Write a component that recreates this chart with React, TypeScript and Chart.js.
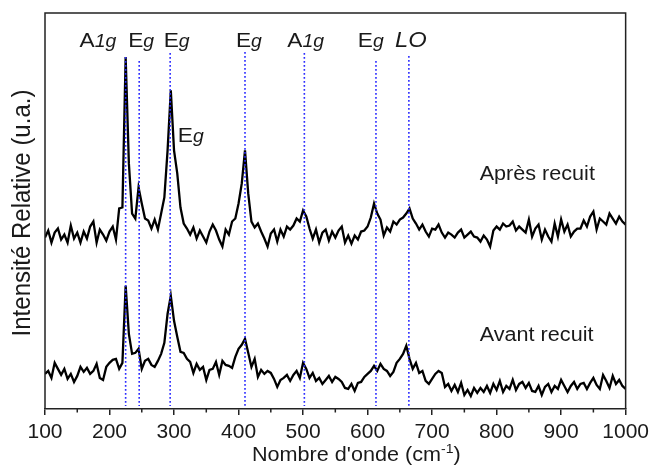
import React, { useEffect, useRef } from 'react';
import { Chart, registerables } from 'chart.js';

Chart.register(...registerables);

// Raman shift sampling (cm-1)
const WN_START = 100;
const WN_STEP = 5;

// "Après recuit" (after annealing) intensities, 100..1000 step 5
const apresRecuit: number[] = [
  171, 178, 166, 176, 180, 169, 174, 166, 183, 170,
  176, 166, 177, 170, 182, 187, 166, 179, 174, 168,
  177, 182, 169, 200, 201, 351, 245, 195, 190, 221,
  205, 190, 188, 180, 189, 179, 195, 211, 258, 318,
  258, 235, 201, 185, 180, 174, 181, 170, 178, 172,
  166, 177, 184, 178, 169, 162, 179, 174, 187, 190,
  205, 225, 258, 215, 187, 181, 185, 177, 170, 162,
  175, 179, 167, 179, 172, 182, 179, 183, 190, 187,
  198, 192, 180, 170, 179, 166, 176, 179, 168, 177,
  171, 178, 182, 166, 173, 165, 173, 169, 177, 178,
  182, 191, 205, 195, 189, 173, 181, 177, 187, 184,
  189, 191, 195, 200, 190, 185, 179, 184, 177, 172,
  180, 179, 184, 176, 171, 176, 174, 171, 176, 179,
  171, 174, 177, 172, 171, 167, 173, 169, 162, 178,
  182, 179, 185, 182, 183, 187, 178, 182, 179, 176,
  189, 172, 180, 184, 169, 179, 172, 167, 185, 172,
  189, 177, 184, 172, 177, 180, 180, 188, 182, 192,
  197, 179, 190, 187, 184, 195, 190, 185, 192, 187,
  184,
];

// "Avant recuit" (before annealing) intensities, 100..1000 step 5
const avantRecuit: number[] = [
  35, 38, 31, 46, 40, 34, 40, 30, 35, 27,
  33, 42, 37, 41, 35, 38, 45, 31, 29, 42,
  46, 49, 50, 40, 46, 123, 75, 55, 56, 60,
  40, 48, 50, 44, 42, 48, 55, 66, 95, 113,
  88, 72, 57, 56, 50, 47, 36, 45, 39, 42,
  29, 39, 40, 47, 34, 48, 44, 43, 41, 52,
  60, 64, 70, 56, 42, 50, 32, 39, 35, 38,
  36, 30, 22, 29, 31, 34, 28, 34, 38, 31,
  46, 40, 31, 36, 28, 31, 25, 29, 33, 27,
  32, 30, 27, 21, 20, 25, 18, 26, 27, 32,
  35, 38, 43, 38, 45, 40, 38, 33, 37, 46,
  50, 55, 63, 50, 40, 46, 36, 38, 28, 25,
  30, 35, 38, 36, 22, 25, 18, 24, 17, 26,
  14, 19, 13, 21, 16, 21, 17, 23, 16, 25,
  19, 28, 17, 23, 20, 29, 19, 25, 27, 21,
  26, 18, 17, 23, 14, 22, 25, 17, 23, 20,
  29, 23, 17, 23, 27, 20, 25, 26, 20, 26,
  31, 24, 20, 34, 28, 21, 33, 25, 29, 23,
  20,
];

const wavenumbers: number[] = apresRecuit.map((_, i) => WN_START + WN_STEP * i);

// Reference mode positions (dotted lines) and where each line starts
const modePositions = [225, 246, 294, 410, 502, 613, 664];
const modeLineTops = [351, 347, 355, 356, 355, 347, 352];

// Mode labels
const modeLabels = ['A1g', 'Eg', 'Eg', 'Eg', 'Eg', 'A1g', 'Eg', 'LO'];
const modeLabelX = [182, 249, 304, 326, 416, 504, 605, 667];
const modeLabelY = [361, 361, 361, 266, 361, 361, 361, 361];

// Sample annotations
const sampleLabels = ['Après recuit', 'Avant recuit'];
const sampleLabelX = [863, 862];
const sampleLabelY = [235, 75];

const xTicksMajor = [100, 200, 300, 400, 500, 600, 700, 800, 900, 1000];
const xTicksMinor = [150, 250, 350, 450, 550, 650, 750, 850, 950];

const FONT = '"Liberation Sans", Arial, Helvetica, sans-serif';
const SX = 1.08;
const INK = '#1a1a1a';

type Seg = { t: string; font: string; dy?: number };

function drawSegs(ctx: CanvasRenderingContext2D, segs: Seg[], x: number, y: number, align: 'center' | 'left') {
  ctx.save();
  ctx.textBaseline = 'alphabetic';
  ctx.textAlign = 'left';
  let total = 0;
  const widths = segs.map((s) => {
    ctx.font = s.font;
    const w = ctx.measureText(s.t).width;
    total += w;
    return w;
  });
  ctx.translate(x, y);
  ctx.scale(SX, 1);
  let cx = align === 'center' ? -total / 2 : 0;
  segs.forEach((s, i) => {
    ctx.font = s.font;
    ctx.fillText(s.t, cx, s.dy || 0);
    cx += widths[i];
  });
  ctx.restore();
}

function labelSegs(label: string): Seg[] {
  if (label === 'LO') return [{ t: 'LO', font: `italic 22px ${FONT}` }];
  return [
    { t: label[0], font: `21px ${FONT}` },
    { t: label.slice(1), font: `italic 18px ${FONT}` },
  ];
}

const decorPlugin = {
  id: 'decor',
  afterDatasetsDraw(chart: any) {
    const { ctx, scales } = chart;
    const xs = scales.x;
    const ys = scales.y;
    ctx.save();
    ctx.strokeStyle = '#2b2bff';
    ctx.lineWidth = 1.6;
    ctx.setLineDash([1.6, 2.4]);
    modePositions.forEach((p, i) => {
      const x = xs.getPixelForValue(p);
      ctx.beginPath();
      ctx.moveTo(x, ys.getPixelForValue(modeLineTops[i]));
      ctx.lineTo(x, ys.getPixelForValue(3));
      ctx.stroke();
    });
    ctx.restore();
  },
  afterDraw(chart: any) {
    const { ctx, scales, chartArea } = chart;
    const xs = scales.x;
    const ys = scales.y;
    ctx.save();
    ctx.strokeStyle = '#222';
    ctx.lineWidth = 1.5;
    ctx.beginPath();
    ctx.moveTo(chartArea.left, chartArea.bottom);
    ctx.lineTo(chartArea.left, chartArea.top);
    ctx.lineTo(chartArea.right, chartArea.top);
    ctx.lineTo(chartArea.right, chartArea.bottom);
    ctx.stroke();
    ctx.beginPath();
    xTicksMinor.forEach((v) => {
      const x = xs.getPixelForValue(v);
      ctx.moveTo(x, chartArea.bottom);
      ctx.lineTo(x, chartArea.bottom + 3.5);
    });
    ctx.stroke();

    ctx.fillStyle = INK;
    modeLabels.forEach((l, i) => {
      drawSegs(ctx, labelSegs(l), xs.getPixelForValue(modeLabelX[i]), ys.getPixelForValue(modeLabelY[i]), 'center');
    });
    sampleLabels.forEach((l, i) => {
      drawSegs(ctx, [{ t: l, font: `20px ${FONT}` }], xs.getPixelForValue(sampleLabelX[i]), ys.getPixelForValue(sampleLabelY[i]) + 7, 'center');
    });
    drawSegs(
      ctx,
      [
        { t: "Nombre d'onde (cm", font: `20px ${FONT}` },
        { t: '-1', font: `13px ${FONT}`, dy: -8 },
        { t: ')', font: `20px ${FONT}` },
      ],
      (chartArea.left + chartArea.right) / 2 + 21,
      461,
      'center'
    );
    ctx.save();
    ctx.translate(23, (chartArea.top + chartArea.bottom) / 2 + 2);
    ctx.rotate(-Math.PI / 2);
    ctx.scale(1, SX);
    ctx.font = `24px ${FONT}`;
    ctx.textAlign = 'center';
    ctx.textBaseline = 'middle';
    ctx.fillText('Intensité Relative (u.a.)', 0, 0);
    ctx.restore();
    ctx.restore();
  },
};

export default function App() {
  const ref = useRef<HTMLCanvasElement | null>(null);
  useEffect(() => {
    if (!ref.current) return;
    const chart = new Chart(ref.current, {
      type: 'line',
      data: {
        datasets: [
          {
            label: 'Après recuit',
            data: wavenumbers.map((x, i) => ({ x, y: apresRecuit[i] })),
            borderColor: '#000',
            borderWidth: 2.3,
            pointRadius: 0,
            tension: 0,
            fill: false,
          },
          {
            label: 'Avant recuit',
            data: wavenumbers.map((x, i) => ({ x, y: avantRecuit[i] })),
            borderColor: '#000',
            borderWidth: 2.3,
            pointRadius: 0,
            tension: 0,
            fill: false,
          },
        ],
      },
      options: {
        responsive: false,
        animation: false,
        layout: { padding: { left: 45, right: 27, top: 13, bottom: 0 } },
        plugins: { legend: { display: false }, tooltip: { enabled: false } },
        scales: {
          x: {
            type: 'linear',
            min: 100,
            max: 1000,
            afterBuildTicks: (s: any) => {
              s.ticks = xTicksMajor.map((v) => ({ value: v }));
            },
            afterFit: (s: any) => {
              s.height = 57;
            },
            ticks: {
              font: { family: FONT, size: 21 },
              color: INK,
              padding: 5,
              maxRotation: 0,
              autoSkip: false,
              callback: (v: any) => String(v),
            },
            grid: {
              drawOnChartArea: false,
              drawTicks: true,
              tickLength: 6,
              color: '#222',
              lineWidth: 1.5,
            },
            border: { display: true, color: '#222', width: 1.5 },
          },
          y: {
            display: false,
            min: 0,
            max: 395,
          },
        },
      },
      plugins: [decorPlugin],
    } as any);
    return () => chart.destroy();
  }, []);
  return (
    <div style={{ position: 'fixed', left: 0, top: 0, width: 654, height: 466, background: '#fff' }}>
      <canvas ref={ref} width={654} height={466} style={{ display: 'block' }} />
    </div>
  );
}
